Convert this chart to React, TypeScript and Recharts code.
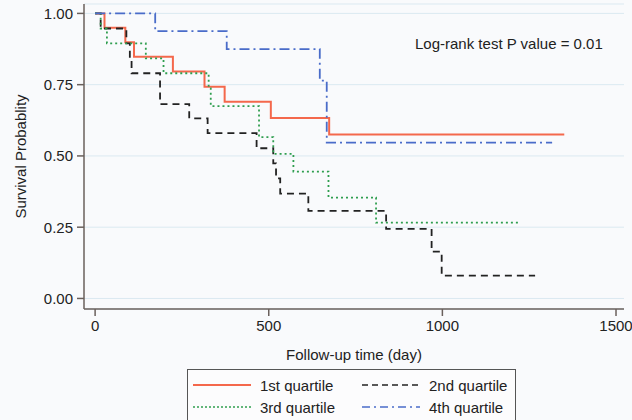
import { CartesianGrid, Line, LineChart, XAxis, YAxis } from "recharts";

// Kaplan-Meier steps (day, survival)
const q1Days = [0, 27, 87, 112, 224, 315, 373, 506, 674, 1351];
const q1Surv = [1, 0.95, 0.899, 0.848, 0.796, 0.743, 0.69, 0.633, 0.575, 0.575];

const q2Days = [0, 16, 90, 100, 105, 187, 271, 324, 465, 513, 521, 533, 614, 838, 969, 998, 1267];
const q2Surv = [1, 0.947, 0.895, 0.842, 0.79, 0.682, 0.632, 0.58, 0.527, 0.474, 0.421, 0.368, 0.307, 0.244, 0.164, 0.08, 0.08];

const q3Days = [0, 16, 34, 146, 197, 327, 333, 472, 513, 571, 672, 809, 1225];
const q3Surv = [1, 0.947, 0.895, 0.842, 0.79, 0.737, 0.675, 0.566, 0.507, 0.445, 0.354, 0.266, 0.266];

const q4Days = [0, 173, 379, 647, 667, 1316];
const q4Surv = [1, 0.938, 0.875, 0.764, 0.547, 0.547];

const xTicks = [0, 500, 1000, 1500];
const yTicks = [0, 0.25, 0.5, 0.75, 1];

const seriesNames = ["1st quartile", "2nd quartile", "3rd quartile", "4th quartile"];

function toPoints(days: number[], surv: number[]) {
  return days.map((t, i) => ({ t, s: surv[i] }));
}

const FONT = '"Liberation Sans", Arial, sans-serif';
const AXIS = "#6a605c";

const series = [
  { name: seriesNames[0], data: toPoints(q1Days, q1Surv), color: "#f4684c", dash: undefined, width: 2 },
  { name: seriesNames[1], data: toPoints(q2Days, q2Surv), color: "#222222", dash: "7 5", width: 1.8 },
  { name: seriesNames[2], data: toPoints(q3Days, q3Surv), color: "#2f9e4f", dash: "2 3", width: 1.8 },
  { name: seriesNames[3], data: toPoints(q4Days, q4Surv), color: "#4a6cc9", dash: "10 4 2 4", width: 1.8 },
];

// legend order matches the figure: 1st, 2nd / 3rd, 4th
function LegendItem({ color, dash, width, label }: { color: string; dash?: string; width: number; label: string }) {
  return (
    <div style={{ display: "flex", alignItems: "center", height: 22 }}>
      <svg width={58} height={10} style={{ marginRight: 9 }}>
        <line x1={0} y1={5} x2={58} y2={5} stroke={color} strokeWidth={width} strokeDasharray={dash} />
      </svg>
      <span>{label}</span>
    </div>
  );
}

export default function App() {
  return (
    <div
      style={{
        position: "absolute",
        left: 0,
        top: 0,
        width: 632,
        height: 420,
        overflow: "hidden",
        background: "#f9fafc",
        fontFamily: FONT,
        color: "#222",
      }}
    >
      <LineChart width={632} height={420} margin={{ top: 4, right: 8, bottom: 59, left: 0 }}>
        <CartesianGrid horizontal vertical={false} stroke="#dbe9f1" />
        <XAxis
          type="number"
          dataKey="t"
          domain={[-32, 1523]}
          ticks={xTicks}
          allowDataOverflow
          height={52}
          tickSize={7}
          tickMargin={4}
          stroke={AXIS}
          strokeWidth={1.5}
          tick={{ fontSize: 15, fill: "#222", fontFamily: FONT }}
          label={{
            value: "Follow-up time (day)",
            position: "insideBottom",
            offset: 1,
            style: { fontSize: 15, fill: "#222", fontFamily: FONT },
          }}
        />
        <YAxis
          type="number"
          domain={[-0.037, 1.033]}
          ticks={yTicks}
          allowDataOverflow
          width={84}
          tickSize={7}
          tickMargin={4}
          stroke={AXIS}
          strokeWidth={1.5}
          tickFormatter={(v: number) => v.toFixed(2)}
          tick={{ fontSize: 15, fill: "#222", fontFamily: FONT }}
          label={{
            value: "Survival Probablity",
            angle: -90,
            position: "insideLeft",
            offset: 21,
            style: { fontSize: 15, fill: "#222", fontFamily: FONT, textAnchor: "middle" },
          }}
        />
        {series.map((s) => (
          <Line
            key={s.name}
            name={s.name}
            data={s.data}
            dataKey="s"
            type="stepAfter"
            stroke={s.color}
            strokeWidth={s.width}
            strokeDasharray={s.dash}
            dot={false}
            activeDot={false}
            isAnimationActive={false}
          />
        ))}
      </LineChart>

      <div style={{ position: "absolute", left: 415, top: 35, fontSize: 15, whiteSpace: "nowrap" }}>
        Log-rank test P value = 0.01
      </div>

      <div
        style={{
          position: "absolute",
          left: 187,
          top: 369,
          width: 329,
          height: 70,
          border: "1px solid #555",
          boxSizing: "border-box",
          background: "#fcfcfd",
          fontSize: 15,
          display: "grid",
          gridTemplateColumns: "169px 160px",
          gridAutoRows: 22,
          alignContent: "start",
          paddingTop: 4,
          paddingLeft: 5,
        }}
      >
        <LegendItem color={series[0].color} width={2} label={seriesNames[0]} />
        <LegendItem color={series[1].color} width={1.6} dash="6 4" label={seriesNames[1]} />
        <LegendItem color={series[2].color} width={1.6} dash="2 2" label={seriesNames[2]} />
        <LegendItem color={series[3].color} width={1.6} dash="8 4 2 4" label={seriesNames[3]} />
      </div>
    </div>
  );
}
